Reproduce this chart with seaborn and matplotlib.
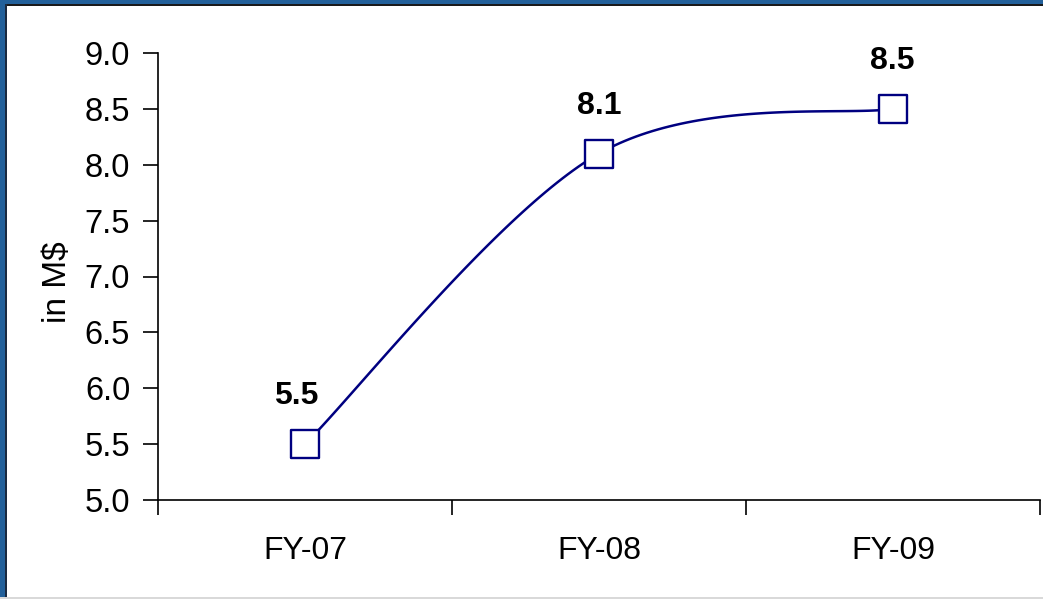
import numpy as np
import pandas as pd
import matplotlib
matplotlib.use("Agg")
import matplotlib.pyplot as plt
from matplotlib.patches import Rectangle
import seaborn as sns

# Revenue by fiscal year (in M$)
years = ["FY-07", "FY-08", "FY-09"]
revenue = [5.5, 8.1, 8.5]
y_ticks = [5.0, 5.5, 6.0, 6.5, 7.0, 7.5, 8.0, 8.5, 9.0]

NAVY = "#000080"
FRAME = "#22609A"

sns.set_theme(style="white")
plt.rcParams["font.family"] = ["Liberation Sans", "DejaVu Sans"]

W, H, DPI = 1043, 599, 100
fig = plt.figure(figsize=(W / DPI, H / DPI), dpi=DPI)
fig.patch.set_facecolor("white")
ax = fig.add_axes([158 / W, 1 - 500 / H, (1040 - 158) / W, (500 - 53) / H])

xs = np.arange(len(years), dtype=float)
ys = np.array(revenue, dtype=float)


def smooth_curve(x, y, n=60):
    """Cardinal (Catmull-Rom style) Bezier smoothing through the given points."""
    pts = np.column_stack([x, y])
    out = [pts[0]]
    t = np.linspace(0, 1, n)[1:, None]
    for i in range(len(pts) - 1):
        p0 = pts[i]
        p3 = pts[i + 1]
        prev = pts[i - 1] if i > 0 else pts[i]
        nxt = pts[i + 2] if i + 2 < len(pts) else pts[i + 1]
        c1 = p0 + (p3 - prev) / 6.0
        c2 = p3 - (nxt - p0) / 6.0
        seg = ((1 - t) ** 3) * p0 + 3 * ((1 - t) ** 2) * t * c1 + 3 * (1 - t) * t ** 2 * c2 + t ** 3 * p3
        out.extend(seg)
    out = np.array(out)
    return out[:, 0], out[:, 1]


cx, cy = smooth_curve(xs, ys)
curve = pd.DataFrame({"x": cx, "y": cy})
points = pd.DataFrame({"x": xs, "y": ys})

sns.lineplot(data=curve, x="x", y="y", ax=ax, color=NAVY, linewidth=1.8,
             sort=False, estimator=None)
sns.scatterplot(data=points, x="x", y="y", ax=ax, marker="s", s=400,
                facecolor="white", edgecolor=NAVY, linewidth=1.7, zorder=5)

# value labels above each point
label_dx = [-9, 0, -1]
for xi, yi, dx in zip(xs, ys, label_dx):
    ax.annotate(f"{yi:.1f}", (xi, yi), xytext=(dx, 48), textcoords="offset pixels",
                ha="center", va="center", fontsize=23, fontweight="bold", color="black")

ax.set_xlim(-0.5, len(years) - 0.5)
ax.set_ylim(5.0, 9.0)
ax.set_yticks(y_ticks)
ax.set_yticklabels([f"{v:.1f}" for v in y_ticks])
ax.set_xticks(xs)
ax.set_xticklabels(years)
ax.set_xticks(np.arange(-0.5, len(years), 1.0), minor=True)

ax.tick_params(axis="x", which="major", length=0, pad=26, labelsize=23, colors="black")
ax.tick_params(axis="x", which="minor", length=11, width=1.2, color="black", direction="out", bottom=True)
ax.tick_params(axis="y", which="major", length=11, width=1.2, color="black", direction="out",
               left=True, pad=9, labelsize=23.5, labelcolor="black")

ax.set_xlabel("")
ax.set_ylabel("in M$", fontsize=24, color="black")
ax.yaxis.set_label_coords(73 / W, 1 - 282 / H, transform=fig.transFigure)

for side in ["top", "right"]:
    ax.spines[side].set_visible(False)
for side in ["left", "bottom"]:
    ax.spines[side].set_visible(True)
    ax.spines[side].set_color("black")
    ax.spines[side].set_linewidth(1.2)
ax.set_facecolor("white")

# frame around the slide area
fig.patches.append(Rectangle((0, 1 - 4 / H), 1, 4 / H, transform=fig.transFigure,
                             facecolor=FRAME, edgecolor="none", zorder=10))
fig.patches.append(Rectangle((0, 1 - 6 / H), 1, 2 / H, transform=fig.transFigure,
                             facecolor="#1a1a1a", edgecolor="none", zorder=10))
fig.patches.append(Rectangle((0, 0), 5 / W, 1, transform=fig.transFigure,
                             facecolor=FRAME, edgecolor="none", zorder=10))
fig.patches.append(Rectangle((5 / W, 0), 2 / W, 1 - 4 / H, transform=fig.transFigure,
                             facecolor="#1a2a40", edgecolor="none", zorder=10))
fig.patches.append(Rectangle((0, 0), 1, 2 / H, transform=fig.transFigure,
                             facecolor="#d9d9d9", edgecolor="none", zorder=10))

fig.savefig("out.png", dpi=DPI)
